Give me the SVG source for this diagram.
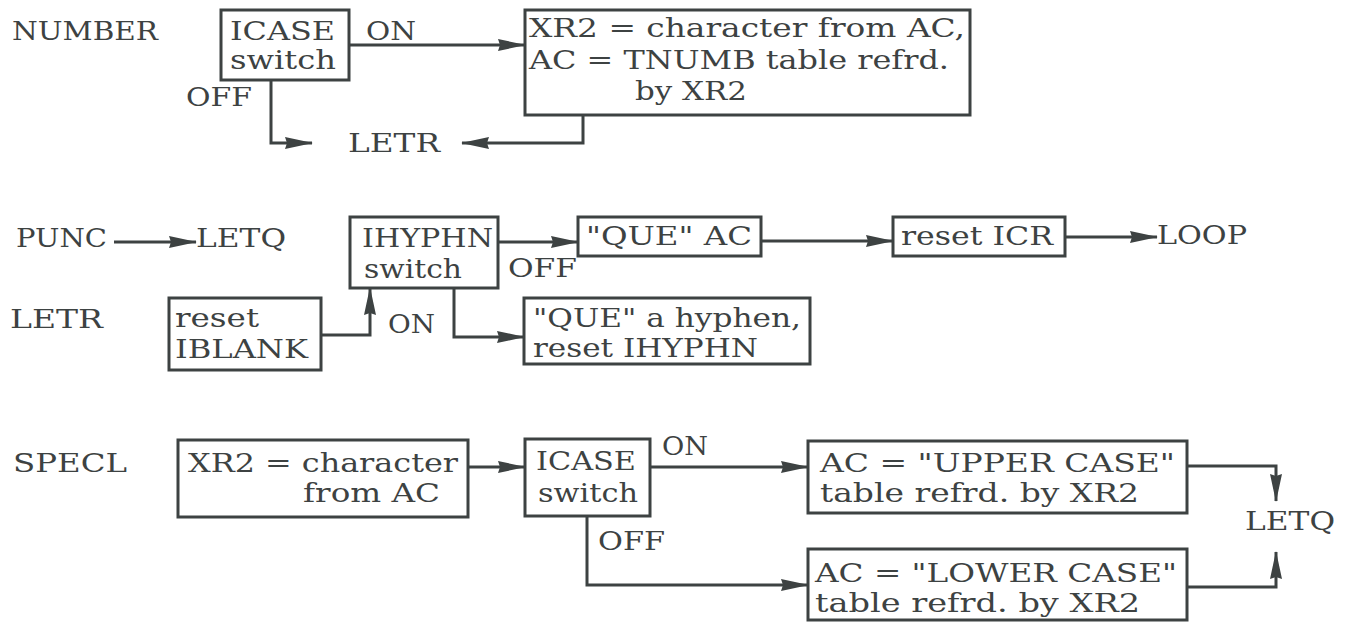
<svg xmlns="http://www.w3.org/2000/svg" width="1351" height="624" viewBox="0 0 1351 624">
<defs>
<style>
text{font-family:"DejaVu Serif","Liberation Serif",serif;font-size:26px;fill:#3d4242}
.b{fill:#fff;stroke:#3d4242;stroke-width:3}
.c{fill:none;stroke:#3d4242;stroke-width:3}
</style>
<marker id="a" markerUnits="userSpaceOnUse" markerWidth="28" markerHeight="13" viewBox="0 0 28 13" refX="27" refY="6.5" orient="auto">
<path d="M0,0.5 L28,6.5 L0,12.5 L2,6.5 z" fill="#3d4242"/>
</marker>
</defs>
<rect width="1351" height="624" fill="#fff"/>
<g id="connectors">
<path class="c" d="M349,45 H525" marker-end="url(#a)"/>
<path class="c" d="M271,80 V143 H312" marker-end="url(#a)"/>
<path class="c" d="M583,115 V143 H462" marker-end="url(#a)"/>
<path class="c" d="M114,242 H196" marker-end="url(#a)"/>
<path class="c" d="M498,242 H578" marker-end="url(#a)"/>
<path class="c" d="M761,241 H893" marker-end="url(#a)"/>
<path class="c" d="M1065,237 H1157" marker-end="url(#a)"/>
<path class="c" d="M321,335 H370 V288" marker-end="url(#a)"/>
<path class="c" d="M454,288 V337 H524" marker-end="url(#a)"/>
<path class="c" d="M468,467 H525" marker-end="url(#a)"/>
<path class="c" d="M650,467 H808" marker-end="url(#a)"/>
<path class="c" d="M587,516 V585 H808" marker-end="url(#a)"/>
<path class="c" d="M1187,466 H1276 V501" marker-end="url(#a)"/>
<path class="c" d="M1187,587 H1276 V552" marker-end="url(#a)"/>
</g>
<g id="labels">
<text x="12" y="40" textLength="146" lengthAdjust="spacingAndGlyphs">NUMBER</text>
<text x="366" y="40" textLength="50" lengthAdjust="spacingAndGlyphs">ON</text>
<text x="186" y="106" textLength="66" lengthAdjust="spacingAndGlyphs">OFF</text>
<text x="348" y="152" textLength="92" lengthAdjust="spacingAndGlyphs">LETR</text>
<text x="16" y="247" textLength="91" lengthAdjust="spacingAndGlyphs">PUNC</text>
<text x="196" y="247" textLength="90" lengthAdjust="spacingAndGlyphs">LETQ</text>
<text x="508" y="277" textLength="69" lengthAdjust="spacingAndGlyphs">OFF</text>
<text x="1157" y="244" textLength="90" lengthAdjust="spacingAndGlyphs">LOOP</text>
<text x="10" y="328" textLength="93" lengthAdjust="spacingAndGlyphs">LETR</text>
<text x="388" y="333" textLength="47" lengthAdjust="spacingAndGlyphs">ON</text>
<text x="13" y="472" textLength="114" lengthAdjust="spacingAndGlyphs">SPECL</text>
<text x="662" y="455" textLength="46" lengthAdjust="spacingAndGlyphs">ON</text>
<text x="598" y="550" textLength="67" lengthAdjust="spacingAndGlyphs">OFF</text>
<text x="1245" y="530" textLength="90" lengthAdjust="spacingAndGlyphs">LETQ</text>
</g>
<g id="n1-icase">
<rect class="b" x="221" y="10" width="128" height="70"/>
<text x="230" y="40" textLength="105" lengthAdjust="spacingAndGlyphs">ICASE</text>
<text x="230" y="69" textLength="106" lengthAdjust="spacingAndGlyphs">switch</text>
</g>
<g id="n1-xr2">
<rect class="b" x="525" y="10" width="445" height="105"/>
<text x="529" y="37" textLength="436" lengthAdjust="spacingAndGlyphs">XR2 = character from AC,</text>
<text x="529" y="69" textLength="420" lengthAdjust="spacingAndGlyphs">AC = TNUMB table refrd.</text>
<text x="635" y="100" textLength="112" lengthAdjust="spacingAndGlyphs">by XR2</text>
</g>
<g id="n2-ihyphn">
<rect class="b" x="350" y="217" width="148" height="71"/>
<text x="362" y="247" textLength="131" lengthAdjust="spacingAndGlyphs">IHYPHN</text>
<text x="364" y="278" textLength="98" lengthAdjust="spacingAndGlyphs">switch</text>
</g>
<g id="n2-queac">
<rect class="b" x="578" y="217" width="183" height="39"/>
<text x="586" y="245" textLength="166" lengthAdjust="spacingAndGlyphs">"QUE" AC</text>
</g>
<g id="n2-reseticr">
<rect class="b" x="893" y="217" width="172" height="39"/>
<text x="901" y="245" textLength="152" lengthAdjust="spacingAndGlyphs">reset ICR</text>
</g>
<g id="n2-iblank">
<rect class="b" x="169" y="298" width="152" height="72"/>
<text x="175" y="327" textLength="84" lengthAdjust="spacingAndGlyphs">reset</text>
<text x="175" y="358" textLength="133" lengthAdjust="spacingAndGlyphs">IBLANK</text>
</g>
<g id="n2-quehyphen">
<rect class="b" x="524" y="298" width="286" height="66"/>
<text x="533" y="327" textLength="268" lengthAdjust="spacingAndGlyphs">"QUE" a hyphen,</text>
<text x="533" y="357" textLength="225" lengthAdjust="spacingAndGlyphs">reset IHYPHN</text>
</g>
<g id="n3-xr2">
<rect class="b" x="178" y="440" width="290" height="77"/>
<text x="188" y="472" textLength="270" lengthAdjust="spacingAndGlyphs">XR2 = character</text>
<text x="303" y="502" textLength="137" lengthAdjust="spacingAndGlyphs">from AC</text>
</g>
<g id="n3-icase">
<rect class="b" x="525" y="439" width="125" height="77"/>
<text x="536" y="470" textLength="100" lengthAdjust="spacingAndGlyphs">ICASE</text>
<text x="538" y="502" textLength="100" lengthAdjust="spacingAndGlyphs">switch</text>
</g>
<g id="n3-upper">
<rect class="b" x="808" y="441" width="379" height="72"/>
<text x="820" y="472" textLength="355" lengthAdjust="spacingAndGlyphs">AC = "UPPER CASE"</text>
<text x="820" y="502" textLength="319" lengthAdjust="spacingAndGlyphs">table refrd. by XR2</text>
</g>
<g id="n3-lower">
<rect class="b" x="808" y="549" width="379" height="71"/>
<text x="815" y="582" textLength="362" lengthAdjust="spacingAndGlyphs">AC = "LOWER CASE"</text>
<text x="815" y="612" textLength="325" lengthAdjust="spacingAndGlyphs">table refrd. by XR2</text>
</g>
</svg>
